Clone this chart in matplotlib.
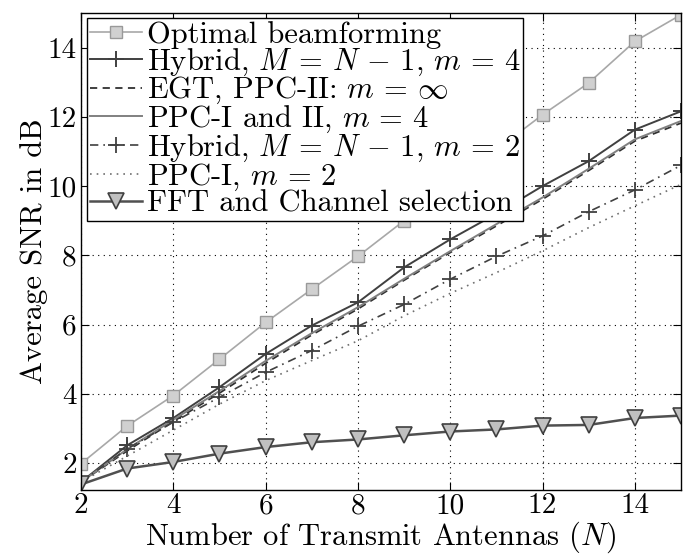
import matplotlib
matplotlib.use('Agg')
import matplotlib.pyplot as plt

# average SNR vs number of transmit antennas
n_ant = [2, 3, 4, 5, 6, 7, 8, 9, 10, 11, 12, 13, 14, 15]

snr_optimal = [1.98, 3.07, 3.95, 5.0, 6.06, 7.02, 7.97, 9.0, 10.0, 11.05, 12.06, 12.98, 14.18, 14.95]
snr_hybrid_m4 = [1.45, 2.51, 3.3, 4.19, 5.15, 5.97, 6.64, 7.65, 8.46, 9.2, 10.0, 10.72, 11.63, 12.16]
snr_egt = [1.45, 2.35, 3.2, 4.02, 4.88, 5.7, 6.45, 7.28, 8.08, 8.85, 9.62, 10.45, 11.3, 11.82]
snr_ppc_m4 = [1.45, 2.4, 3.25, 4.08, 4.95, 5.75, 6.5, 7.32, 8.12, 8.9, 9.67, 10.5, 11.35, 11.88]
snr_hybrid_m2 = [1.45, 2.41, 3.18, 3.9, 4.62, 5.25, 5.95, 6.58, 7.31, 7.97, 8.56, 9.26, 9.89, 10.6]
snr_ppc1_m2 = [1.45, 2.2, 2.95, 3.7, 4.38, 4.96, 5.53, 6.25, 6.9, 7.5, 8.13, 8.8, 9.43, 10.05]
snr_fft = [1.38, 1.84, 2.03, 2.27, 2.46, 2.6, 2.68, 2.8, 2.91, 2.97, 3.08, 3.1, 3.3, 3.37]

plt.rcParams['font.family'] = 'cmr10'
plt.rcParams['mathtext.fontset'] = 'cm'
plt.rcParams['axes.unicode_minus'] = False
plt.rcParams['font.size'] = 22

fig = plt.figure(figsize=(6.83, 5.56), dpi=100)
ax = fig.add_axes([81/683, 66/556, 600/683, 477/556])

ax.plot(n_ant, snr_optimal, color='#a8a8a8', lw=1.2, marker='s', ms=9,
        mfc='#d0d0d0', mec='#999999', label='Optimal beamforming')
ax.plot(n_ant, snr_hybrid_m4, color='#404040', lw=1.4, marker='+', ms=12, mew=1.4,
        label=r'Hybrid, $M\,=\,N\,-\,1$, $m\,=\,4$')
ax.plot(n_ant, snr_egt, color='#303030', lw=1.3, ls=(0, (4, 3)),
        label=r'EGT, PPC-II: $m\,=\,\infty$')
ax.plot(n_ant, snr_ppc_m4, color='#808080', lw=1.4,
        label=r'PPC-I and II, $m\,=\,4$')
ax.plot(n_ant, snr_hybrid_m2, color='#404040', lw=1.2, ls=(0, (5, 3, 1, 3)),
        marker='+', ms=12, mew=1.3, label=r'Hybrid, $M\,=\,N\,-\,1$, $m\,=\,2$')
ax.plot(n_ant, snr_ppc1_m2, color='#707070', lw=1.2, ls=(0, (1, 3)),
        label=r'PPC-I, $m\,=\,2$')
ax.plot(n_ant, snr_fft, color='#505050', lw=1.8, marker='v', ms=11,
        mfc='#c0c0c0', mec='#404040', mew=1.2, label='FFT and Channel selection')

ax.set_xlim(2, 15)
ax.set_ylim(1.22, 15)
ax.set_xticks(range(2, 15, 2))
ax.set_yticks(range(2, 15, 2))
ax.grid(True, ls=(0, (1, 4)), color='black', lw=0.8)
ax.tick_params(direction='in', top=True, right=True, length=6, labelsize=21)
ax.tick_params(axis='x', pad=2)
ax.tick_params(axis='y', pad=3)
for s in ax.spines.values():
    s.set_linewidth(1.0)

ax.set_xlabel(r'Number of Transmit Antennas ($N$)', fontsize=22, labelpad=0.5)
ax.set_ylabel('Average SNR in dB', fontsize=22, labelpad=0)

leg = ax.legend(loc='upper left', bbox_to_anchor=(0.01, 0.99), borderaxespad=0,
                fontsize=22, fancybox=False, framealpha=1, edgecolor='black',
                handlelength=1.7, handletextpad=0.15, labelspacing=-0.08,
                borderpad=0.1)
leg.get_frame().set_linewidth(1.0)

fig.savefig('out.png', dpi=100)
